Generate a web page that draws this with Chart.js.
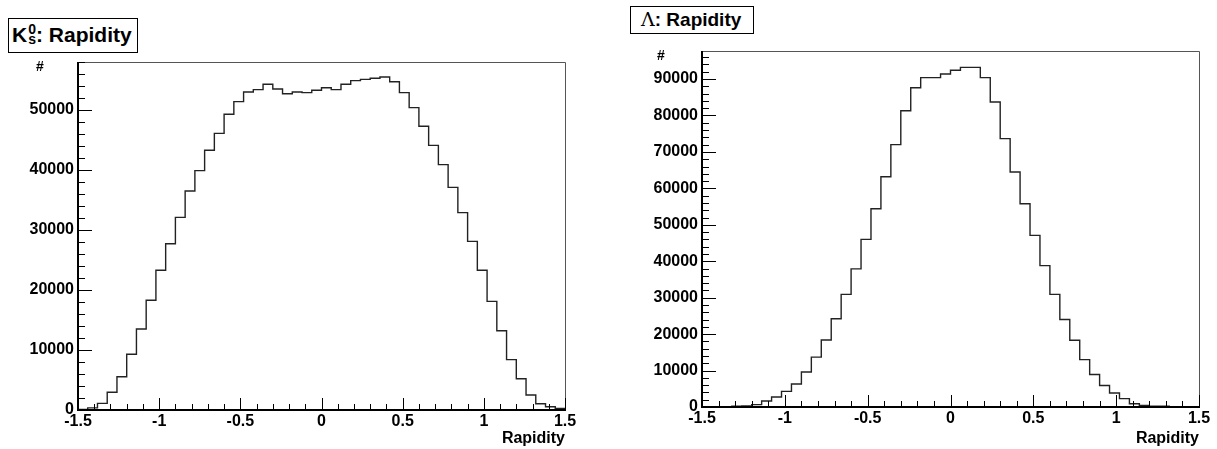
<!DOCTYPE html>
<html>
<head>
<meta charset="utf-8">
<script src="https://cdn.jsdelivr.net/npm/chart.js@4/dist/chart.umd.min.js"></script>
<style>
  body { margin: 0; background: #fff; width: 1217px; height: 449px; position: relative; overflow: hidden; }
  canvas { position: absolute; top: 0; }
  .title { position: absolute; border: 1px solid #000; background: #fff; font-family: 'Liberation Sans', Arial, sans-serif; font-weight: bold; color: #000; white-space: nowrap; box-sizing: border-box; }
  .supsub { display: inline-flex; flex-direction: column; font-size: 14px; line-height: 10px; vertical-align: 8px; margin-left: 1px; }
  .lam { font-family: 'DejaVu Serif', 'Liberation Serif', serif; font-weight: normal; }
  .hash { position: absolute; font: bold 14px 'Liberation Sans', Arial, sans-serif; }
</style>
</head>
<body>
<canvas id="kaon" width="600" height="449" style="left:0px"></canvas>
<canvas id="lambda" width="607" height="449" style="left:610px"></canvas>

<div class="title" style="left:8px;top:18px;width:130px;height:35px;font-size:21px;line-height:32px;padding-left:3px">K<span class="supsub"><span>0</span><span>s</span></span>: Rapidity</div>
<div class="title" style="left:630px;top:6px;width:124px;height:28px;font-size:19px;line-height:25px;padding-left:10px"><span class="lam">&Lambda;</span>: Rapidity</div>
<div class="hash" style="left:36px;top:58px">#</div>
<div class="hash" style="left:657px;top:47px">#</div>

<script>
// 50 bins of width 0.06 from -1.5 to 1.5
const binLow = -1.5;
const binWidth = 0.06;

const kaonCounts = [
  100, 350, 1100, 2950, 5550, 9300, 13500, 18300, 23300, 27700,
  32100, 36500, 39900, 43300, 46100, 49300, 51400, 53000, 53400, 54300,
  53500, 52700, 53000, 52900, 53300, 53700, 53400, 54300, 54900, 55100,
  55300, 55500, 54700, 52900, 50400, 47300, 44100, 40900, 37100, 32900,
  28100, 23300, 18100, 13200, 8400, 5200, 2500, 1050, 550, 250
];

const lambdaCounts = [
  0, 0, 0, 200, 300, 640, 1650, 2750, 4300, 6300,
  9600, 13700, 18400, 24200, 30900, 37900, 46000, 54400, 63200, 72000,
  81300, 87600, 90400, 90400, 91400, 92400, 93200, 93200, 90400, 83700,
  73650, 64500, 55800, 47100, 38800, 30900, 24000, 18300, 13000, 8900,
  5900, 3850, 2300, 900, 450, 200, 200, 100, 0, 0
];

const xTicks = [-1.5, -1, -0.5, 0, 0.5, 1, 1.5];
const kaonYTicks = [0, 10000, 20000, 30000, 40000, 50000];
const lambdaYTicks = [0, 10000, 20000, 30000, 40000, 50000, 60000, 70000, 80000, 90000];

const tickFont = { family: "'Liberation Sans', Arial, sans-serif", size: 16, weight: 'bold' };

// histogram outline: rise at first edge, drop at last edge
function histPoints(counts) {
  const pts = [{ x: binLow, y: 0 }];
  counts.forEach((c, i) => pts.push({ x: binLow + i * binWidth, y: c }));
  pts.push({ x: binLow + counts.length * binWidth, y: 0 });
  return pts;
}

// ROOT-like frame with inward major/minor ticks
const rootFrame = {
  id: 'rootFrame',
  afterDatasetsDraw(chart) {
    const { ctx, chartArea: a, scales: { x, y } } = chart;
    ctx.save();
    ctx.strokeStyle = '#555';
    ctx.lineWidth = 1;
    ctx.beginPath();
    ctx.moveTo(a.left, a.top + 0.5);
    ctx.lineTo(a.right + 0.5, a.top + 0.5);
    ctx.lineTo(a.right + 0.5, a.bottom);
    ctx.stroke();

    ctx.strokeStyle = '#000';
    ctx.lineWidth = 1;
    ctx.beginPath();
    for (let k = 0; k <= 30; k++) {
      const px = Math.round(x.getPixelForValue(-1.5 + k * 0.1)) + 0.5;
      const len = k % 5 === 0 ? 12 : 6;
      ctx.moveTo(px, a.bottom);
      ctx.lineTo(px, a.bottom - len);
    }
    for (let v = 0; v <= y.max; v += 2000) {
      const py = Math.round(y.getPixelForValue(v)) + 0.5;
      const len = v % 10000 === 0 ? 14 : 7;
      ctx.moveTo(a.left, py);
      ctx.lineTo(a.left + len, py);
    }
    ctx.stroke();

    ctx.lineWidth = 2;
    ctx.beginPath();
    ctx.moveTo(a.left, a.top);
    ctx.lineTo(a.left, a.bottom);
    ctx.lineTo(a.right + 1, a.bottom);
    ctx.stroke();
    ctx.restore();
  }
};

function makeHist(id, counts, yMax, yTicks, axisWidth, padTop, padRight, xHeight) {
  new Chart(document.getElementById(id), {
    type: 'line',
    data: {
      datasets: [{
        data: histPoints(counts),
        stepped: 'before',
        borderColor: '#222',
        borderWidth: 1.4,
        pointRadius: 0,
        fill: false
      }]
    },
    options: {
      responsive: false,
      animation: false,
      devicePixelRatio: 1,
      layout: { padding: { left: 0, top: padTop, right: padRight, bottom: 0 } },
      plugins: { legend: { display: false }, tooltip: { enabled: false } },
      scales: {
        x: {
          type: 'linear',
          min: -1.5,
          max: 1.5,
          afterBuildTicks: s => { s.ticks = xTicks.map(v => ({ value: v })); },
          afterFit: s => { s.height = xHeight; },
          ticks: { font: tickFont, color: '#000', padding: 2, maxRotation: 0, autoSkip: false, callback: v => String(v) },
          grid: { display: false, drawTicks: false },
          border: { display: false },
          title: { display: true, text: 'Rapidity', align: 'end', color: '#000', font: tickFont, padding: { top: 0, bottom: 1 } }
        },
        y: {
          min: 0,
          max: yMax,
          afterBuildTicks: s => { s.ticks = yTicks.map(v => ({ value: v })); },
          afterFit: s => { s.width = axisWidth; },
          ticks: { font: tickFont, color: '#000', padding: 4, autoSkip: false, callback: v => String(v) },
          grid: { display: false, drawTicks: false },
          border: { display: false }
        }
      }
    },
    plugins: [rootFrame]
  });
}

makeHist('kaon', kaonCounts, 58000, kaonYTicks, 78, 62, 35, 39);
makeHist('lambda', lambdaCounts, 97700, lambdaYTicks, 92, 51, 18, 42);
</script>
</body>
</html>
